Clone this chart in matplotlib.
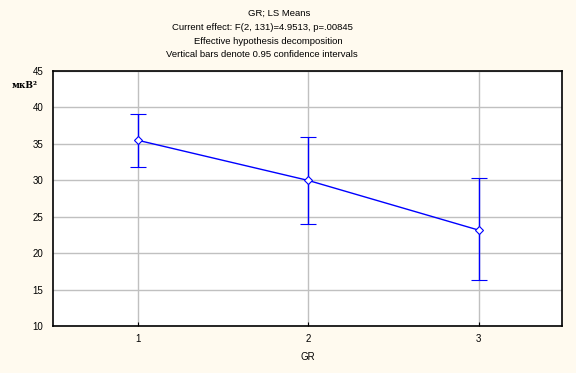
import matplotlib.pyplot as plt

# LS means by group with 0.95 confidence limits
groups = [1, 2, 3]
means = [35.5, 30.0, 23.2]
upper = [39.1, 35.9, 30.3]
lower = [31.8, 24.1, 16.3]

title_lines = [
    'GR; LS Means',
    'Current effect: F(2, 131)=4.9513, p=.00845',
    'Effective hypothesis decomposition',
    'Vertical bars denote 0.95 confidence intervals',
]

plt.rcParams['font.family'] = ['Liberation Sans', 'DejaVu Sans']

bg = '#fffaef'
fig = plt.figure(figsize=(5.76, 3.73), dpi=100, facecolor=bg)
ax = fig.add_axes([0.092, 0.1247, 0.884, 0.685])
ax.set_facecolor('white')

yerr = [[m - l for m, l in zip(means, lower)], [u - m for m, u in zip(means, upper)]]
ax.errorbar(groups, means, yerr=yerr, color='#0000ff', lw=1, capsize=6,
            capthick=1, marker='D', markersize=4, markerfacecolor='white',
            markeredgecolor='#0000ff', markeredgewidth=0.8, zorder=3)

ax.set_xlim(0.5, 3.49)
ax.set_ylim(10, 45)
ax.set_xticks(groups)
ax.set_yticks(range(10, 46, 5))
ax.grid(True, color='#c0c0c0', lw=1)
ax.set_axisbelow(True)
for s in ax.spines.values():
    s.set_linewidth(1.2)
ax.tick_params(axis='x', direction='in', length=3, labelsize=7, pad=5.5)
ax.tick_params(axis='y', length=0, labelsize=7, pad=7)

ax.set_xlabel('GR', fontsize=7, labelpad=6)
fig.text(0.02, 0.772, 'мкВ²', fontsize=6.5, fontweight='bold', family='DejaVu Serif',
         ha='left', va='center')

xs = [0.484, 0.456, 0.465, 0.455]
ys = [0.963, 0.925, 0.888, 0.855]
for t, x, y in zip(title_lines, xs, ys):
    fig.text(x, y, t, fontsize=6.8, ha='center', va='center')

fig.savefig('out.png', dpi=100, facecolor=bg)
